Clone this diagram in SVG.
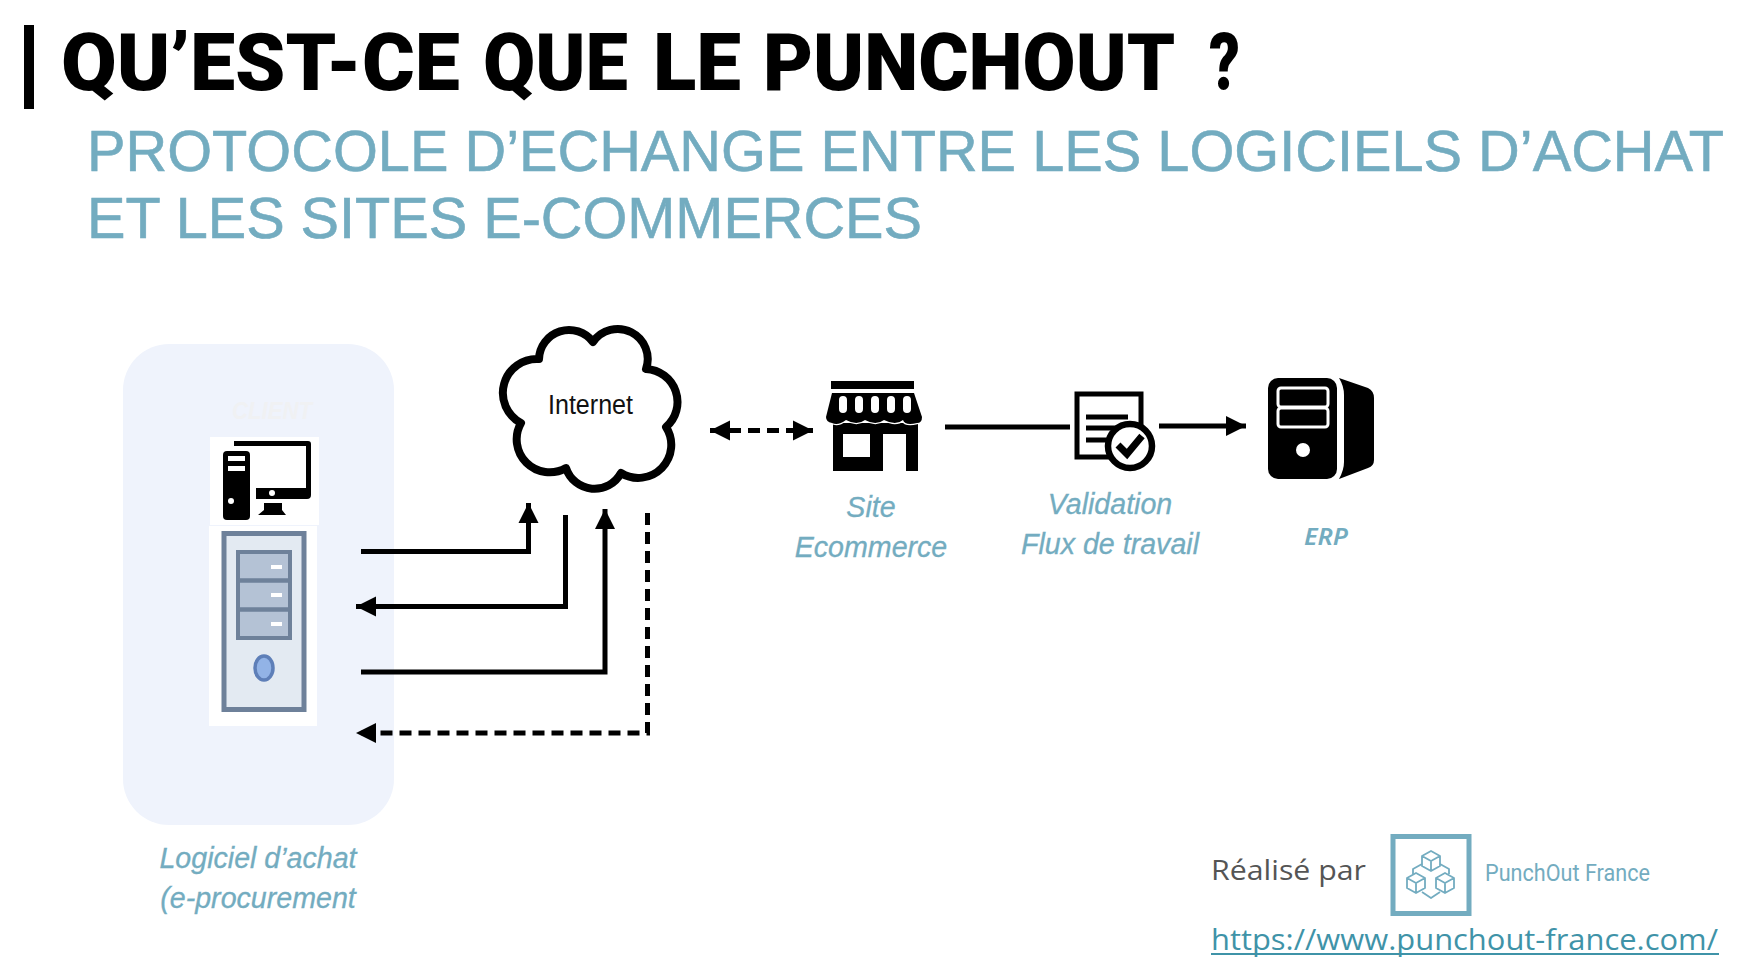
<svg xmlns="http://www.w3.org/2000/svg" width="1752" height="972" viewBox="0 0 1752 972">
<style>
.lbl{font-family:"Liberation Sans",Arial,sans-serif;font-style:italic;font-size:28.600px;fill:#73acc0;text-anchor:middle;stroke:#73acc0;stroke-width:.3}
.sub{font-family:"Liberation Sans",Arial,sans-serif;font-size:58px;fill:#73acc0;stroke:#73acc0;stroke-width:.6}
.c{fill:none;stroke:#000;stroke-width:5}
.d{stroke-dasharray:12 7}
.cube{fill:none;stroke:#73acc0;stroke-width:1.8;stroke-linejoin:round}
</style>
<defs>
<marker id="ah" markerUnits="userSpaceOnUse" markerWidth="22" markerHeight="22" refX="20" refY="11" orient="auto-start-reverse"><path d="M0 1L20 11L0 21Z" fill="#000"/></marker>
<g id="cb"><path class="cube" d="M0 -10L9 -5V5L0 10L-9 5V-5ZM-9 -5L0 0L9 -5M0 0V10"/></g>
</defs>
<rect width="1752" height="972" fill="#fff"/>
<g id="title">
<rect x="24" y="25" width="10" height="84" fill="#000"/>
<text y="90" font-family="Roboto,sans-serif" font-weight="900" font-size="80" fill="#000"><tspan x="61" textLength="399" lengthAdjust="spacingAndGlyphs">QU’EST-CE</tspan> <tspan x="483" textLength="145" lengthAdjust="spacingAndGlyphs">QUE</tspan> <tspan x="653" textLength="88" lengthAdjust="spacingAndGlyphs">LE</tspan> <tspan x="763" textLength="410" lengthAdjust="spacingAndGlyphs">PUNCHOUT</tspan> <tspan x="1209" textLength="31" lengthAdjust="spacingAndGlyphs">?</tspan></text>
<text class="sub" x="87" y="171" textLength="1637" lengthAdjust="spacingAndGlyphs">PROTOCOLE D’ECHANGE ENTRE LES LOGICIELS D’ACHAT</text>
<text class="sub" x="87" y="238" textLength="835" lengthAdjust="spacingAndGlyphs">ET LES SITES E-COMMERCES</text>
</g>
<g id="client">
<rect x="123" y="344" width="271" height="481" rx="46" fill="#eff3fc"/>
<text x="272" y="419" font-family="Liberation Sans,sans-serif" font-style="italic" font-weight="700" font-size="24" fill="#f0f1f3" text-anchor="middle" textLength="80" lengthAdjust="spacingAndGlyphs">CLIENT</text>
<rect x="210" y="437" width="109" height="88" fill="#fff"/>
<rect x="209" y="526" width="108" height="200" fill="#fff"/>
<path d="M234 441H308a3 3 0 0 1 3 3V495a4 4 0 0 1 -4 4H256V488H306V446H234Z" fill="#000"/>
<rect x="223" y="451" width="27" height="69" rx="4" fill="#000"/>
<rect x="228" y="456" width="17" height="5" fill="#fff"/><rect x="228" y="466" width="17" height="5" fill="#fff"/><circle cx="231" cy="501" r="3" fill="#fff"/>
<circle cx="272" cy="493" r="3" fill="#fff"/>
<path d="M264 503H282V510L286 515H258L264 510Z" fill="#000"/>
<rect x="224" y="533.500" width="80" height="176" fill="#e3eaf2" stroke="#6e819a" stroke-width="5"/>
<rect x="238" y="552" width="52" height="86" fill="#b4c2d5" stroke="#6e819a" stroke-width="4"/>
<path d="M237 580.500H291M237 609.500H291" stroke="#6e819a" stroke-width="4.500"/>
<path d="M271 565h11v4h-11zM271 593h11v4h-11zM271 622h11v4h-11z" fill="#fff"/>
<ellipse cx="264" cy="668" rx="9" ry="12" fill="#92b3e6" stroke="#5e7fb8" stroke-width="3.500"/>
<text class="lbl" x="258" y="868">Logiciel d’achat</text>
<text class="lbl" x="258" y="908">(e-procurement</text>
</g>
<g id="internet">
<path d="M539 359A30 30 0 0 1 593 342A30 30 0 0 1 646 369A33 33 0 0 1 666 427A33 33 0 0 1 621 473A30 30 0 0 1 566 468A33 33 0 0 1 521 423A34 34 0 0 1 539 359Z" fill="#fff" stroke="#000" stroke-width="8" stroke-linejoin="round"/>
<text x="548" y="414" font-family="Liberation Sans,sans-serif" font-size="27" textLength="85" lengthAdjust="spacingAndGlyphs" fill="#111">Internet</text>
</g>
<g id="connectors">
<path class="c" marker-end="url(#ah)" d="M361 551.500H528.500V503"/>
<path class="c" marker-end="url(#ah)" d="M565.500 515V606.500H356"/>
<path class="c" marker-end="url(#ah)" d="M361 672H605V509"/>
<path class="c d" marker-end="url(#ah)" d="M647.500 513V733H356"/>
<path class="c d" marker-start="url(#ah)" marker-end="url(#ah)" d="M710 430.500H813"/>
<path class="c" d="M945 427H1070"/>
<path class="c" marker-end="url(#ah)" d="M1159 426H1246"/>
</g>
<g id="store">
<rect x="831" y="381" width="83" height="8" fill="#000"/>
<path d="M833 423H918V471H906V434H883V471H833ZM843 434V457H870V434Z" fill="#000" fill-rule="evenodd"/>
<path d="M832 393H914L922 417Q922 423 917 423Q905 426 903 420Q896 426 884 420Q876 426 865 420Q857 426 846 420Q838 426 832 423Q826 422 826 417Z" fill="#000" stroke="#fff" stroke-width="2.500" paint-order="stroke"/>
<path d="M843 400V409M859 400V409M875 400V409M891 400V409M907 400V409" stroke="#fff" stroke-width="8" stroke-linecap="round" fill="none"/>
<text class="lbl" x="871" y="517">Site</text>
<text class="lbl" x="871" y="557">Ecommerce</text>
</g>
<g id="validation">
<rect x="1077" y="394" width="64" height="63" fill="#fff" stroke="#000" stroke-width="5"/>
<path d="M1086 417H1128M1086 428H1128M1086 440H1112" stroke="#000" stroke-width="5"/>
<circle cx="1130" cy="446" r="22" fill="#fff" stroke="#000" stroke-width="6.500"/>
<path d="M1118 445L1127 454L1142 436" fill="none" stroke="#000" stroke-width="7"/>
<text class="lbl" x="1110" y="514">Validation</text>
<text class="lbl" x="1110" y="554">Flux de travail</text>
</g>
<g id="erp">
<rect x="1268" y="378" width="69" height="101" rx="10" fill="#000"/>
<path d="M1339 378L1368 388Q1374 391 1374 398V460Q1374 466 1368 468L1339 479Q1344 470 1344 462V395Q1344 386 1339 378Z" fill="#000"/>
<rect x="1278" y="388" width="50" height="19" rx="3" fill="#000" stroke="#fff" stroke-width="3"/>
<rect x="1278" y="408" width="50" height="19" rx="3" fill="#000" stroke="#fff" stroke-width="3"/>
<circle cx="1303" cy="450" r="7" fill="#fff"/>
<text x="1326" y="545" font-family="Noto Sans,sans-serif" font-style="italic" font-weight="600" font-size="24" text-anchor="middle" textLength="44" lengthAdjust="spacingAndGlyphs" fill="#73acc0">ERP</text>
</g>
<g id="brand">
<text x="1211" y="880" font-family="Open Sans,sans-serif" font-size="27" textLength="155" lengthAdjust="spacingAndGlyphs" fill="#555">Réalisé par</text>
<rect x="1393" y="836.500" width="76" height="77" fill="none" stroke="#73acc0" stroke-width="5"/>
<use href="#cb" x="1431" y="861"/><use href="#cb" x="1416" y="883"/><use href="#cb" x="1445" y="883"/>
<path class="cube" d="M1422 864L1413 869V874M1440 864L1449 869V874M1422 892L1431 898L1440 892"/>
<text x="1485" y="881" font-family="Roboto,sans-serif" font-size="23" textLength="165" lengthAdjust="spacingAndGlyphs" fill="#73acc0">PunchOut France</text>
<text x="1211" y="950" font-family="Open Sans,sans-serif" font-size="30" textLength="507" lengthAdjust="spacingAndGlyphs" fill="#3f93a8">https://www.punchout-france.com/</text>
<rect x="1211" y="953" width="508" height="2" fill="#3f93a8"/>
</g>
</svg>
